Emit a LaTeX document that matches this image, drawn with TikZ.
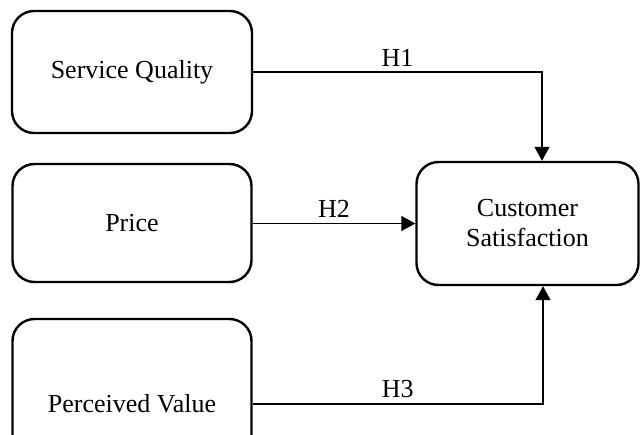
\documentclass[tikz,border=0pt]{standalone}
\usepackage{fontspec}
\setmainfont{Liberation Serif}
\usetikzlibrary{arrows.meta}
\begin{document}
\begin{tikzpicture}[x=1pt,y=1pt,
  box/.style={draw, line width=2.4pt, rounded corners=22pt, align=center,
    font=\fontsize{26}{30}\selectfont, inner sep=0pt},
  arr/.style={line width=1.3pt, -{Triangle[length=14pt,width=15pt]}},
  lab/.style={font=\fontsize{26}{30}\selectfont, above=2pt}]
\useasboundingbox (0,0) rectangle (640,-434);
\node[box, minimum width=240, minimum height=122] (sq) at (132,-72) {Service Quality};
\node[box, minimum width=239, minimum height=118] (pr) at (132,-223) {Price};
\node[box, minimum width=239, minimum height=170] (pv) at (132,-404) {Perceived Value};
\node[box, minimum width=222, minimum height=123] (cs) at (527.5,-223.5) {Customer\\Satisfaction};
\draw[arr] (sq.east) -| node[lab, pos=0.25] {H1} ([xshift=14.5pt]cs.north);
\draw[arr] (pr.east |- cs.west) -- node[lab] {H2} (cs.west);
\draw[arr] (pv.east) -| node[lab, pos=0.25] {H3} ([xshift=15.5pt]cs.south);
\end{tikzpicture}
\end{document}
